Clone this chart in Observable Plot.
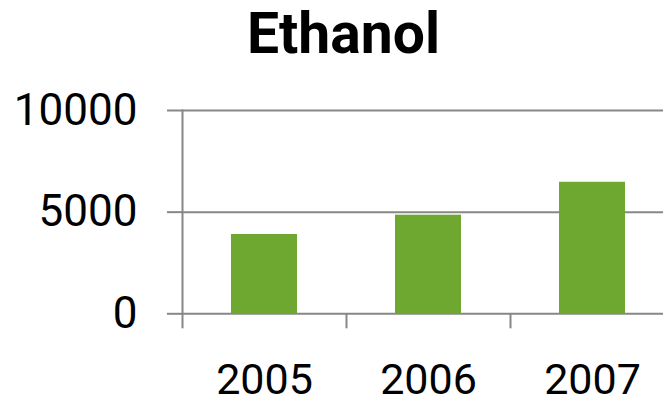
<!DOCTYPE html>
<html>
<head>
<meta charset="utf-8">
<script src="https://cdn.jsdelivr.net/npm/d3@7"></script>
<script src="https://cdn.jsdelivr.net/npm/@observablehq/plot@0.6"></script>
<style>
  html, body { margin: 0; padding: 0; background: white; overflow: hidden; }
  #title { height: 70px; line-height: 67px; font-family: Roboto, sans-serif; font-weight: bold; font-size: 57px; text-align: center; position: relative; left: 12px; color: #000; }
</style>
</head>
<body>
<div id="title">Ethanol</div>
<div id="chart"></div>
<script>
const years = ["2005", "2006", "2007"];
const ethanol = [3900, 4850, 6470];
const yTicks = [0, 5000, 10000];

const data = years.map((y, i) => ({year: y, value: ethanol[i]}));
const gridColor = "#878787";

const plot = Plot.plot({
  width: 663,
  height: 335,
  marginLeft: 182,
  marginRight: -11,
  marginTop: 40,
  marginBottom: 91.7,
  style: {fontFamily: "Roboto, sans-serif", fontSize: "44px", color: "#000", background: "white"},
  x: {domain: years, paddingInner: 0.6, paddingOuter: 0.3},
  y: {domain: [0, 10000]},
  marks: [
    Plot.gridY(yTicks, {stroke: gridColor, strokeOpacity: 1, strokeWidth: 2}),
    Plot.frame({anchor: "left", stroke: gridColor, strokeWidth: 2}),
    Plot.barY(data, {x: "year", y: "value", fill: "#6ea830"}),
    Plot.axisY(yTicks, {tickSize: 15, tickPadding: 30, tickFormat: "d", stroke: gridColor, strokeWidth: 2, fill: "#000", label: null}),
    Plot.axisX({tickSize: 15, dx: -82, tickFormat: () => "", stroke: gridColor, strokeWidth: 2, label: null}),
    Plot.axisX({tickSize: 0, tickPadding: 50, fontSize: 43, fill: "#000", label: null})
  ]
});
document.getElementById("chart").appendChild(plot);
</script>
</body>
</html>
